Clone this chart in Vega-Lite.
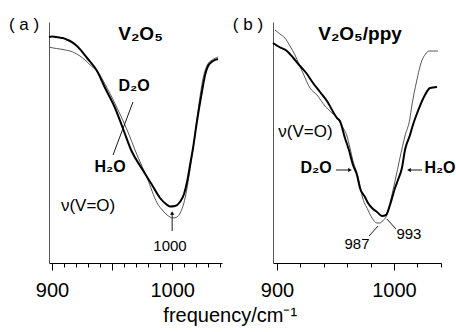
{
  "$schema": "https://vega.github.io/schema/vega-lite/v6.json",
  "padding": {"left": 8, "top": 15, "right": 0, "bottom": 0},
  "background": "white",
  "bounds": "flush",
  "spacing": 51,
  "config": {"view": {"stroke": null}, "font": "Liberation Sans", "text": {"font": "Liberation Sans", "color": "black"}},
  "title": {"text": "frequency/cm⁻¹", "orient": "bottom", "anchor": "middle", "fontSize": 20, "fontWeight": "normal", "font": "Liberation Sans", "color": "black", "offset": 6, "dx": -2},
  "datasets": {
    "a_thick": [
      {"f": 897.5, "t": 226}, {"f": 900, "t": 226.5}, {"f": 903, "t": 226}, {"f": 906, "t": 225.5}, {"f": 909, "t": 225}, {"f": 912, "t": 223.5}, {"f": 915, "t": 222},
      {"f": 920.8, "t": 217}, {"f": 929.2, "t": 205}, {"f": 937.5, "t": 192}, {"f": 944.2, "t": 175}, {"f": 952.5, "t": 155}, {"f": 959.2, "t": 134},
      {"f": 966.2, "t": 112}, {"f": 974.5, "t": 95}, {"f": 982.8, "t": 79}, {"f": 989.9, "t": 65}, {"f": 994.9, "t": 59}, {"f": 998.2, "t": 56.5},
      {"f": 1002.4, "t": 57}, {"f": 1006.5, "t": 61}, {"f": 1009.9, "t": 69}, {"f": 1012.4, "t": 81}, {"f": 1014.9, "t": 98}, {"f": 1017.4, "t": 115},
      {"f": 1020.7, "t": 142}, {"f": 1024.9, "t": 172}, {"f": 1027.4, "t": 188}, {"f": 1029.9, "t": 197}, {"f": 1034.0, "t": 202}, {"f": 1038.2, "t": 204}
    ],
    "a_thin": [
      {"f": 897.5, "t": 216}, {"f": 901, "t": 215}, {"f": 906.7, "t": 214}, {"f": 911, "t": 213}, {"f": 915, "t": 212}, {"f": 919, "t": 210}, {"f": 923.3, "t": 207},
      {"f": 927.5, "t": 203}, {"f": 931.7, "t": 198}, {"f": 937.5, "t": 192}, {"f": 946.7, "t": 173}, {"f": 955, "t": 153}, {"f": 962.5, "t": 133},
      {"f": 970.8, "t": 108}, {"f": 979.2, "t": 85}, {"f": 987.5, "t": 60}, {"f": 992.5, "t": 52}, {"f": 995.8, "t": 48}, {"f": 1000.8, "t": 45},
      {"f": 1004, "t": 46}, {"f": 1006.7, "t": 50}, {"f": 1010.8, "t": 65}, {"f": 1014.2, "t": 88}, {"f": 1017.5, "t": 115}, {"f": 1020.8, "t": 145},
      {"f": 1023.4, "t": 168}, {"f": 1025.8, "t": 185}, {"f": 1029.2, "t": 198}, {"f": 1033.3, "t": 203}, {"f": 1038.3, "t": 206}
    ],
    "b_thick": [
      {"f": 896.6, "t": 220}, {"f": 902, "t": 216}, {"f": 908.5, "t": 212}, {"f": 914, "t": 205}, {"f": 919.7, "t": 197}, {"f": 925, "t": 190},
      {"f": 930.8, "t": 180}, {"f": 936.8, "t": 171}, {"f": 942.7, "t": 162}, {"f": 951.3, "t": 145}, {"f": 953.8, "t": 142}, {"f": 958.1, "t": 125},
      {"f": 961.5, "t": 113}, {"f": 965, "t": 98}, {"f": 968.4, "t": 88}, {"f": 970.9, "t": 75}, {"f": 975.2, "t": 66}, {"f": 977.8, "t": 60},
      {"f": 982.1, "t": 54}, {"f": 985.5, "t": 51}, {"f": 989.7, "t": 47}, {"f": 993.2, "t": 48}, {"f": 996.6, "t": 58}, {"f": 1000.9, "t": 75},
      {"f": 1003.4, "t": 83}, {"f": 1006.8, "t": 95}, {"f": 1009.4, "t": 113}, {"f": 1013.7, "t": 128}, {"f": 1016.2, "t": 138}, {"f": 1020.5, "t": 152},
      {"f": 1026.5, "t": 168}, {"f": 1030.8, "t": 175}, {"f": 1036.8, "t": 176}
    ],
    "b_thin": [
      {"f": 898.3, "t": 233}, {"f": 902.5, "t": 229}, {"f": 906.8, "t": 225}, {"f": 911.1, "t": 217}, {"f": 915.4, "t": 208}, {"f": 918.8, "t": 199},
      {"f": 922.2, "t": 190}, {"f": 928.2, "t": 175}, {"f": 934.2, "t": 168}, {"f": 941, "t": 157}, {"f": 947, "t": 150}, {"f": 951.3, "t": 145},
      {"f": 955.6, "t": 137}, {"f": 959.8, "t": 127}, {"f": 962.4, "t": 115}, {"f": 965, "t": 102}, {"f": 967.5, "t": 93}, {"f": 970.9, "t": 78},
      {"f": 972.6, "t": 68}, {"f": 977.8, "t": 53}, {"f": 981.2, "t": 45}, {"f": 985.5, "t": 40}, {"f": 988, "t": 40}, {"f": 991, "t": 43},
      {"f": 993.2, "t": 46}, {"f": 996.6, "t": 60}, {"f": 1000.9, "t": 82}, {"f": 1005.1, "t": 105}, {"f": 1009.4, "t": 127}, {"f": 1013.7, "t": 145},
      {"f": 1015.1, "t": 156}, {"f": 1019.4, "t": 182}, {"f": 1023.7, "t": 202}, {"f": 1027, "t": 209}, {"f": 1030, "t": 212}, {"f": 1037.6, "t": 212}
    ],
    "a_title": [{"f": 973.7, "t": 223, "label": "V₂O₅"}],
    "a_bold": [{"f": 968.3, "t": 172, "label": "D₂O"}, {"f": 948.3, "t": 91, "label": "H₂O"}],
    "a_plain": [{"f": 876.7, "t": 233, "label": "( a )"}, {"f": 930, "t": 52, "label": "ν(V=O)"}],
    "a_num": [{"f": 998.2, "t": 12, "label": "1000"}],
    "a_rules": [{"f": 967.4, "t": 161, "f2": 950.8, "t2": 108}, {"f": 1000, "t": 32, "f2": 1000, "t2": 50}],
    "a_heads": [{"f": 1000, "t": 50}],
    "b_title": [{"f": 971, "t": 223, "label": "V₂O₅/ppy"}],
    "b_bold": [{"f": 933.4, "t": 90, "label": "D₂O"}, {"f": 1039.3, "t": 90, "label": "H₂O"}],
    "b_plain": [{"f": 875.2, "t": 233, "label": "( b )"}, {"f": 924.4, "t": 126, "label": "ν(V=O)"}],
    "b_num": [{"f": 968.4, "t": 14, "label": "987"}, {"f": 1012.8, "t": 24, "label": "993"}],
    "b_rules": [{"f": 950.4, "t": 93, "f2": 961, "t2": 93}, {"f": 1024, "t": 93, "f2": 1014, "t2": 93}, {"f": 978.7, "t": 27, "f2": 986.4, "t2": 37}, {"f": 994, "t": 44, "f2": 1001.7, "t2": 34}],
    "b_head_r": [{"f": 962.4, "t": 93}],
    "b_head_l": [{"f": 1012.8, "t": 93}]
  },
  "hconcat": [
    {
      "width": 173,
      "height": 241,
      "encoding": {
        "x": {"field": "f", "type": "quantitative",
              "scale": {"domain": [897.5, 1041.5], "nice": false, "zero": false},
              "axis": {"values": [900, 910, 920, 930, 940, 950, 960, 970, 980, 990, 1000, 1010, 1020, 1030, 1040],
                       "format": "d",
                       "labelExpr": "datum.value == 900 || datum.value == 1000 ? datum.label : ''",
                       "tickSize": {"condition": {"test": "datum.value % 50 == 0", "value": 7}, "value": 4},
                       "grid": false, "title": null, "labelFontSize": 20, "labelFont": "Liberation Sans", "labelColor": "black",
                       "domainColor": "black", "tickColor": "black", "labelPadding": 10, "labelFlush": false, "labelOverlap": false}},
        "y": {"field": "t", "type": "quantitative",
              "scale": {"domain": [0, 241], "nice": false, "zero": false},
              "axis": {"title": null, "labels": false, "ticks": false, "grid": false, "domainColor": "#555"}}
      },
      "layer": [
        {"data": {"name": "a_thin"}, "mark": {"type": "line", "stroke": "#444", "strokeWidth": 0.9, "interpolate": "monotone"}},
        {"data": {"name": "a_thick"}, "mark": {"type": "line", "stroke": "black", "strokeWidth": 2, "interpolate": "monotone"}},
        {"data": {"name": "a_rules"}, "mark": {"type": "rule", "stroke": "black", "strokeWidth": 0.9},
         "encoding": {"x2": {"field": "f2"}, "y2": {"field": "t2"}}},
        {"data": {"name": "a_heads"}, "mark": {"type": "point", "shape": "triangle-up", "filled": true, "color": "black", "size": 18, "opacity": 1}},
        {"data": {"name": "a_title"}, "mark": {"type": "text", "fontSize": 19, "fontWeight": "bold", "align": "center", "baseline": "alphabetic"},
         "encoding": {"text": {"field": "label"}}},
        {"data": {"name": "a_bold"}, "mark": {"type": "text", "fontSize": 16, "fontWeight": "bold", "align": "center", "baseline": "alphabetic"},
         "encoding": {"text": {"field": "label"}}},
        {"data": {"name": "a_plain"}, "mark": {"type": "text", "fontSize": 17, "align": "center", "baseline": "alphabetic"},
         "encoding": {"text": {"field": "label"}}},
        {"data": {"name": "a_num"}, "mark": {"type": "text", "fontSize": 15, "align": "center", "baseline": "alphabetic"},
         "encoding": {"text": {"field": "label"}}}
      ]
    },
    {
      "width": 168,
      "height": 241,
      "encoding": {
        "x": {"field": "f", "type": "quantitative",
              "scale": {"domain": [896.6, 1040.2], "nice": false, "zero": false},
              "axis": {"values": [900, 920, 940, 960, 980, 1000, 1020, 1040],
                       "format": "d",
                       "labelExpr": "datum.value == 900 || datum.value == 1000 ? datum.label : ''",
                       "tickSize": {"condition": {"test": "datum.value == 900 || datum.value == 1000", "value": 7}, "value": 4},
                       "grid": false, "title": null, "labelFontSize": 20, "labelFont": "Liberation Sans", "labelColor": "black",
                       "domainColor": "black", "tickColor": "black", "labelPadding": 10, "labelFlush": false, "labelOverlap": false}},
        "y": {"field": "t", "type": "quantitative",
              "scale": {"domain": [0, 241], "nice": false, "zero": false},
              "axis": {"title": null, "labels": false, "ticks": false, "grid": false, "domainColor": "#555"}}
      },
      "layer": [
        {"data": {"name": "b_thin"}, "mark": {"type": "line", "stroke": "#444", "strokeWidth": 0.9, "interpolate": "monotone"}},
        {"data": {"name": "b_thick"}, "mark": {"type": "line", "stroke": "black", "strokeWidth": 2, "interpolate": "monotone"}},
        {"data": {"name": "b_rules"}, "mark": {"type": "rule", "stroke": "black", "strokeWidth": 0.9},
         "encoding": {"x2": {"field": "f2"}, "y2": {"field": "t2"}}},
        {"data": {"name": "b_head_r"}, "mark": {"type": "point", "shape": "triangle-right", "filled": true, "color": "black", "size": 18, "opacity": 1}},
        {"data": {"name": "b_head_l"}, "mark": {"type": "point", "shape": "triangle-left", "filled": true, "color": "black", "size": 18, "opacity": 1}},
        {"data": {"name": "b_title"}, "mark": {"type": "text", "fontSize": 19, "fontWeight": "bold", "align": "center", "baseline": "alphabetic"},
         "encoding": {"text": {"field": "label"}}},
        {"data": {"name": "b_bold"}, "mark": {"type": "text", "fontSize": 16, "fontWeight": "bold", "align": "center", "baseline": "alphabetic"},
         "encoding": {"text": {"field": "label"}}},
        {"data": {"name": "b_plain"}, "mark": {"type": "text", "fontSize": 17, "align": "center", "baseline": "alphabetic"},
         "encoding": {"text": {"field": "label"}}},
        {"data": {"name": "b_num"}, "mark": {"type": "text", "fontSize": 15, "align": "center", "baseline": "alphabetic"},
         "encoding": {"text": {"field": "label"}}}
      ]
    }
  ]
}
